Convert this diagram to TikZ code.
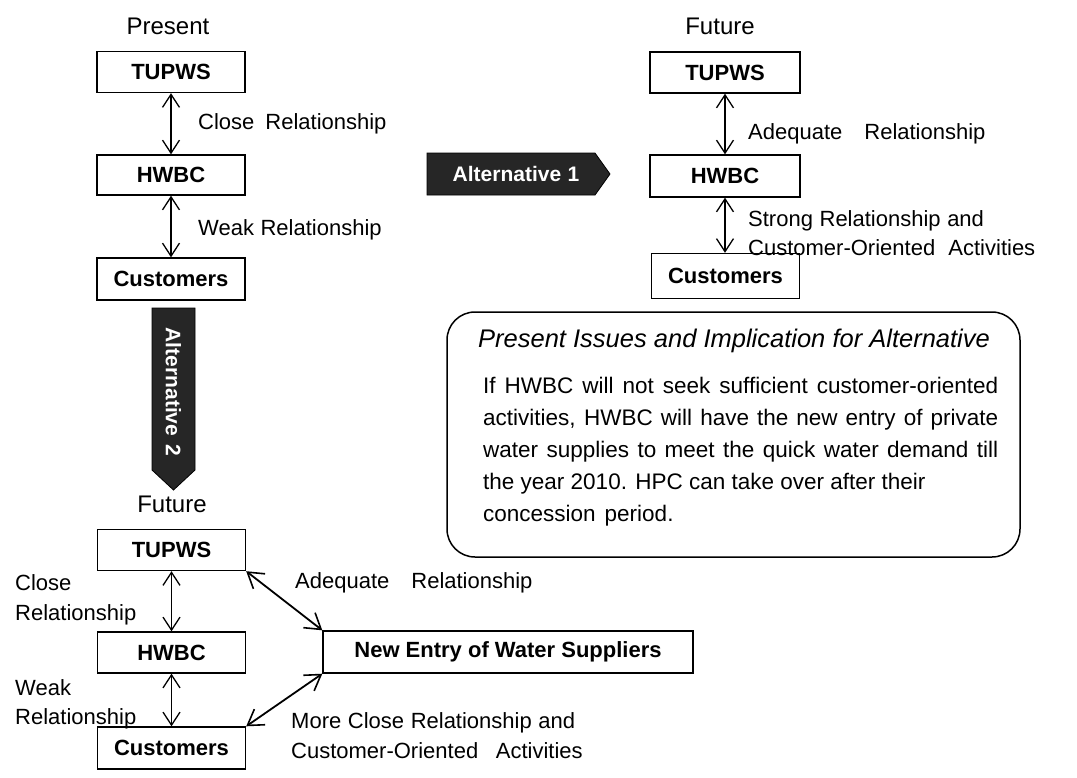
\documentclass[tikz,border=0pt]{standalone}
\usepackage{fontspec}
\setmainfont{Liberation Sans}
\usetikzlibrary{arrows.meta}
\begin{document}
\begin{tikzpicture}[x=1pt,y=-1pt,
  box/.style={draw, line width=1.4pt, minimum width=148pt, minimum height=41pt, inner sep=0pt,
    font=\fontsize{22}{26}\selectfont\bfseries},
  lbl/.style={anchor=base west, inner sep=0pt, font=\fontsize{22}{26}\selectfont},
  ttl/.style={anchor=base, inner sep=0pt, font=\fontsize{24}{28}\selectfont},
  body/.style={anchor=base west, inner sep=0pt, font=\fontsize{22.5}{27}\selectfont},
  dbl/.style={line width=1.3pt,
    {Straight Barb[length=13pt,width=17pt,line width=1.3pt]}-{Straight Barb[length=13pt,width=17pt,line width=1.3pt]}},
  dbldiag/.style={line width=1.8pt,
    {Straight Barb[length=15pt,width=19pt,line width=1.6pt]}-{Straight Barb[length=15pt,width=19pt,line width=1.6pt]}},
  altarrow/.style={fill=black!85, draw=black, line width=0.8pt},
  alttext/.style={inner sep=0pt, text=white, font=\fontsize{21}{24}\selectfont\bfseries}
]
\useasboundingbox (0,0) rectangle (1077,777);

% Present
\node[ttl] (ptitle) at (168,34) {Present};
\node[box] (pT) at (171,72) {TUPWS};
\node[box, minimum height=40pt] (pH) at (171,175) {HWBC};
\node[box, minimum height=42pt] (pC) at (171,279) {Customers};
\draw[dbl] (pT.south) -- (pH.north);
\draw[dbl] (pH.south) -- (pC.north);
\node[lbl] (pl1) at (198,129) {Close\hspace{0.5em}Relationship};
\node[lbl] (pl2) at (198,235) {Weak\hspace{0.3em}Relationship};

% Alternative 1
\path[altarrow] (427,153) -- (595,153) -- (610,174) -- (595,195) -- (427,195) -- cycle;
\node[alttext] (alt1) at (516,174) {Alternative\hspace{0.3em}1};

% Future (alternative 1)
\node[ttl] (ftitle) at (720,34) {Future};
\node[box, minimum width=150pt] (fT) at (725,72.5) {TUPWS};
\node[box, minimum width=150pt, minimum height=42pt] (fH) at (725,176) {HWBC};
\node[box, minimum width=148pt, minimum height=45pt] (fC) at (725.5,276) {Customers};
\draw[dbl] (fT.south) -- (fH.north);
\draw[dbl] (fH.south) -- (fC.north -| fH.south);
\node[lbl] (fl1) at (748,139) {Adequate\hspace{1em}Relationship};
\node[lbl] (fl2) at (748,226) {Strong\hspace{0.3em}Relationship\hspace{0.3em}and};
\node[lbl] (fl3) at (748,255) {Customer-Oriented\hspace{0.6em}Activities};

% Issues box
\node[draw, line width=1.5pt, rounded corners=28pt, minimum width=573pt, minimum height=245pt, inner sep=0pt]
  (issues) at (733.5,434.5) {};
\node[anchor=base west, inner sep=0pt, font=\fontsize{25.5}{30}\selectfont\itshape] (ititle) at (478,347)
  {Present Issues and Implication for Alternative};
\node[body] (b1) at (483,393) {\makebox[515pt][s]{If HWBC will not seek sufficient customer-oriented}};
\node[body] (b2) at (483,425) {\makebox[515pt][s]{activities, HWBC will have the new entry of private}};
\node[body] (b3) at (483,457) {\makebox[515pt][s]{water supplies to meet the quick water demand till}};
\node[body] (b4) at (483,489) {the year 2010. HPC can take over after their};
\node[body] (b5) at (483,521) {concession\hspace{0.4em}period.};

% Alternative 2
\path[altarrow] (152,308) -- (195,308) -- (195,470) -- (173.5,490) -- (152,470) -- cycle;
\node[alttext, rotate=-90] (alt2) at (173.5,392) {Alternative\hspace{0.4em}2};

% Future (alternative 2)
\node[ttl] (btitle) at (172,512) {Future};
\node[box] (bT) at (171.5,550) {TUPWS};
\node[box] (bH) at (171.5,652.5) {HWBC};
\node[box, minimum height=42pt] (bC) at (171.5,748) {Customers};
\draw[dbl] (bT.south) -- (bH.north);
\draw[dbl] (bH.south) -- (bC.north);
\node[lbl] (bl1a) at (15,590) {Close};
\node[lbl] (bl1b) at (15,620) {Relationship};
\node[lbl] (bl2a) at (15,695) {Weak};
\node[lbl] (bl2b) at (15,724) {Relationship};

\node[box, minimum width=370pt, minimum height=42pt] (nE) at (508,652) {New Entry of Water Suppliers};
\draw[dbldiag] (bT.south east) -- (nE.north west);
\draw[dbldiag] (bC.north east) -- (nE.south west);
\node[lbl] (nl1) at (295,588) {Adequate\hspace{1em}Relationship};
\node[lbl] (nl2) at (291,728) {More\hspace{0.3em}Close\hspace{0.3em}Relationship\hspace{0.3em}and};
\node[lbl] (nl3) at (291,758) {Customer-Oriented\hspace{0.8em}Activities};
\end{tikzpicture}
\end{document}
